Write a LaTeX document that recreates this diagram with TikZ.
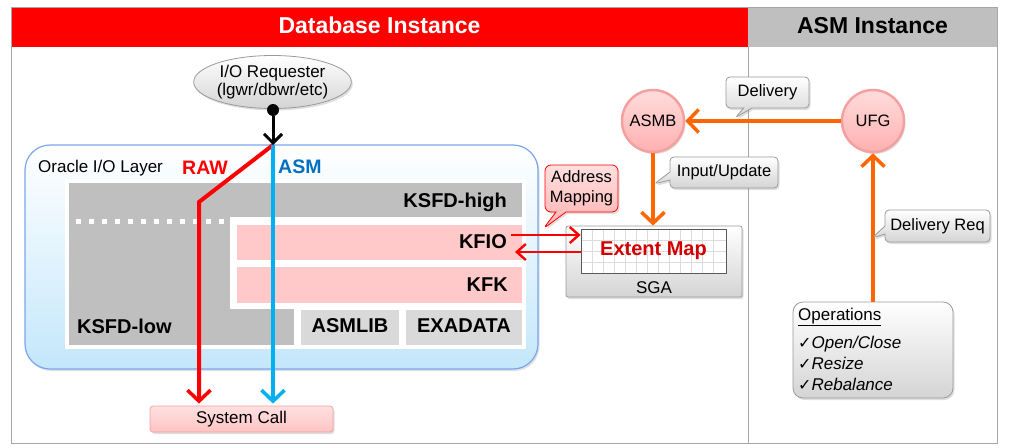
\documentclass[tikz,border=0pt]{standalone}
\usepackage{fontspec}
\setmainfont{Liberation Sans}
\newfontfamily\symfont{DejaVu Sans}
\usetikzlibrary{arrows.meta,shapes.geometric,shapes.callouts,shadows}
\definecolor{hdrred}{HTML}{FF0000}
\definecolor{hdrgray}{HTML}{BFBFBF}
\definecolor{framegray}{HTML}{A6A6A6}
\definecolor{ksfdgray}{HTML}{BFBFBF}
\definecolor{ltgray}{HTML}{D9D9D9}
\definecolor{pinkblk}{HTML}{FFC9C9}
\definecolor{linered}{HTML}{FF0000}
\definecolor{lineblue}{HTML}{00B0F0}
\definecolor{asmblue}{HTML}{0070C0}
\definecolor{orng}{HTML}{FF6600}
\definecolor{emred}{HTML}{D00000}
\definecolor{layerblue}{HTML}{C4E7FB}
\definecolor{layerborder}{HTML}{7AA6EE}
\definecolor{circpink}{HTML}{FFB0B0}
\definecolor{circtop}{HTML}{FFDCDC}
\definecolor{circborder}{HTML}{F5A0A0}
\definecolor{boxgray}{HTML}{D4D4D4}
\definecolor{bordergray}{HTML}{9A9A9A}
\definecolor{gridc}{HTML}{DCDCDC}
\definecolor{callpink}{HTML}{FFB0B0}
\definecolor{calltop}{HTML}{FFE0E0}
\definecolor{sysbot}{HTML}{FFC4C4}
\begin{document}
\begin{tikzpicture}[x=1pt,y=-1pt,
  f17/.style={font=\fontsize{17}{19}\selectfont},
  f16/.style={font=\fontsize{16.5}{19}\selectfont},
  b20/.style={font=\fontsize{20}{22}\selectfont\bfseries},
  hdr/.style={font=\fontsize{23}{26}\selectfont\bfseries, anchor=base},
  shd/.style={drop shadow={opacity=0.25, shadow xshift=1.5pt, shadow yshift=-2pt}},
  gcall/.style={rectangle callout, draw=bordergray, line width=0.8pt, rounded corners=4pt,
     top color=white, bottom color=boxgray, inner sep=0pt, callout pointer width=8pt, shd, f16},
  pcall/.style={rectangle callout, draw=linered, line width=0.8pt, rounded corners=6pt,
     top color=calltop, bottom color=callpink, inner sep=0pt, callout pointer width=10pt, shd, f16, align=center},
  pcirc/.style={circle, minimum size=62pt, inner sep=0pt, draw=circborder, line width=2.5pt,
     top color=circtop, bottom color=circpink, shd, f16},
  bigtip/.style={-{Straight Barb[length=11pt,width=23pt,line width=3.5pt]}},
  oarr/.style={draw=orng, line width=4pt, bigtip},
  rarr/.style={draw=linered, line width=4pt, bigtip, shorten >=2pt},
  blarr/.style={draw=lineblue, line width=4pt, bigtip, shorten >=2pt},
  karr/.style={draw=linered, line width=2.5pt, -{Straight Barb[length=9pt,width=16pt,line width=2.4pt]}},
]
\useasboundingbox (0,0) rectangle (1024,447);

% frame and headers
\fill[hdrred] (11,7) rectangle (748,47);
\fill[hdrgray] (748,7) rectangle (997,47);
\draw[framegray, line width=1pt] (11,7) rectangle (997,443);
\draw[framegray, line width=1pt] (748,47) -- (748,443);
\node[hdr, text=white] (dbi) at (379.5,33) {Database Instance};
\node[hdr, text=black] (asmi) at (872.5,33) {ASM Instance};

% Oracle I/O layer
\node[draw=layerborder, line width=1.2pt, rounded corners=25pt, top color=white, bottom color=layerblue,
      minimum width=513pt, minimum height=224pt, shd] (layer) at (281.5,257) {};
\node[f17, anchor=base west, inner sep=0pt] (layerlbl) at (38,172) {Oracle I/O Layer};
\node[anchor=base west, inner sep=0pt, text=linered, font=\fontsize{19.5}{22}\selectfont\bfseries] (raw) at (182,174) {RAW};
\node[anchor=base west, inner sep=0pt, text=asmblue, font=\fontsize{19.5}{22}\selectfont\bfseries] (asmlbl) at (278,173) {ASM};

\fill[white] (65,179) rectangle (526,349);
\fill[ksfdgray] (69,183) rectangle (522,345);
\fill[white] (230,217) rectangle (526,309);
\fill[white] (294,303) rectangle (526,349);
\fill[pinkblk] (237,225) rectangle (522,260);
\fill[pinkblk] (237,267) rectangle (522,303);
\fill[ltgray] (301,310) rectangle (399,345);
\fill[ltgray] (406,310) rectangle (522,345);
\draw[white, line width=5pt, dash pattern=on 5pt off 8pt] (76,221) -- (228,221);

\node[b20, anchor=base east, inner sep=0pt] (ksfdh) at (507,207) {KSFD-high};
\node[b20, anchor=base east, inner sep=0pt] (kfio) at (507,248) {KFIO};
\node[b20, anchor=base east, inner sep=0pt] (kfk) at (508,291) {KFK};
\node[b20, anchor=base west, inner sep=0pt] (ksfdl) at (77,333) {KSFD-low};
\node[b20, anchor=base, inner sep=0pt] (asmlib) at (350,332) {ASMLIB};
\node[b20, anchor=base, inner sep=0pt] (exa) at (464,332) {EXADATA};

% I/O requester and system call
\node[ellipse, draw=bordergray, line width=0.8pt, top color=white, bottom color=boxgray,
      minimum width=157pt, minimum height=53pt, inner sep=0pt, align=center, shd,
      font=\fontsize{17}{18.5}\selectfont] (req) at (272.5,82) {I/O Requester\\(lgwr/dbwr/etc)};
\node[draw=circborder, line width=0.8pt, rounded corners=3pt, top color=calltop, bottom color=sysbot,
      minimum width=183pt, minimum height=26pt, inner sep=0pt, shd, f17] (sys) at (241.5,419) {System Call};

\coordinate (split) at (273,145);
\coordinate (bend) at (199,202);
\draw[rarr] (split) -- (bend) -- (bend |- sys.north);
\draw[blarr] (split) -- (split |- sys.north);
\node[circle, fill=black, minimum size=12pt, inner sep=0pt] (dot) at (273,110) {};
\draw[draw=black, line width=3pt, -{Straight Barb[length=9pt,width=18pt,line width=3pt]}] (dot) -- (split);

% SGA and extent map
\node[draw=bordergray, line width=0.8pt, rounded corners=2pt, top color=white, bottom color=boxgray,
      minimum width=176pt, minimum height=71pt, shd] (sga) at (654,261.5) {};
\fill[white] (581,229) rectangle (726,273);
\foreach \gx in {592,603,...,720} \draw[gridc, line width=0.6pt] (\gx,229) -- (\gx,273);
\foreach \gy in {240,251,262} \draw[gridc, line width=0.6pt] (581,\gy) -- (726,\gy);
\node[draw=black!65, line width=0.8pt, minimum width=145pt, minimum height=44pt, inner sep=0pt,
      b20, text=emred] (emap) at (653.5,251) {Extent Map};
\node[f17, anchor=base, inner sep=0pt] (sgal) at (654,293) {SGA};

\coordinate (kfa) at (511,235);
\coordinate (kfb) at (515,252);
\draw[karr] (kfa) -- (kfa -| emap.west);
\draw[karr] (kfb -| emap.west) -- (kfb);

% ASM side
\node[pcirc] (asmb) at (653,121) {ASMB};
\node[pcirc] (ufg) at (873,121) {UFG};
\node[draw=bordergray, line width=0.8pt, rounded corners=10pt, top color=white, bottom color=boxgray,
      minimum width=160pt, minimum height=96pt, shd] (ops) at (873,350) {};
\node[f17, anchor=base west, inner sep=0pt] (opt) at (798,320) {\underline{Operations}};
\node[f17, anchor=base west, inner sep=0pt] (op1) at (798,348) {{\symfont\fontsize{16}{17}\selectfont ✓}\itshape Open/Close};
\node[f17, anchor=base west, inner sep=0pt] (op2) at (798,369) {{\symfont\fontsize{16}{17}\selectfont ✓}\itshape Resize};
\node[f17, anchor=base west, inner sep=0pt] (op3) at (798,390) {{\symfont\fontsize{16}{17}\selectfont ✓}\itshape Rebalance};

\draw[oarr] (ufg) -- (asmb);
\draw[oarr] (asmb) -- (asmb |- sga.north);
\draw[oarr] (ops) -- (ufg);

% callouts
\coordinate (tipdel) at (735,118);
\coordinate (tipin) at (654,184);
\coordinate (tipreq) at (872,238);
\coordinate (tipaddr) at (543,229);
\node[gcall, minimum width=83pt, minimum height=31pt, callout absolute pointer={(tipdel)}] (delv) at (767.5,92.5) {Delivery};
\node[gcall, minimum width=108pt, minimum height=31pt, callout absolute pointer={(tipin)}] (inup) at (724,172.5) {Input/Update};
\node[gcall, minimum width=105pt, minimum height=32pt, callout absolute pointer={(tipreq)}] (dreq) at (937.5,226) {Delivery Req};
\node[pcall, minimum width=73pt, minimum height=47pt, callout absolute pointer={(tipaddr)},
      font=\fontsize{16.5}{20}\selectfont] (addr) at (581.5,188.5) {Address\\Mapping};
\end{tikzpicture}
\end{document}
